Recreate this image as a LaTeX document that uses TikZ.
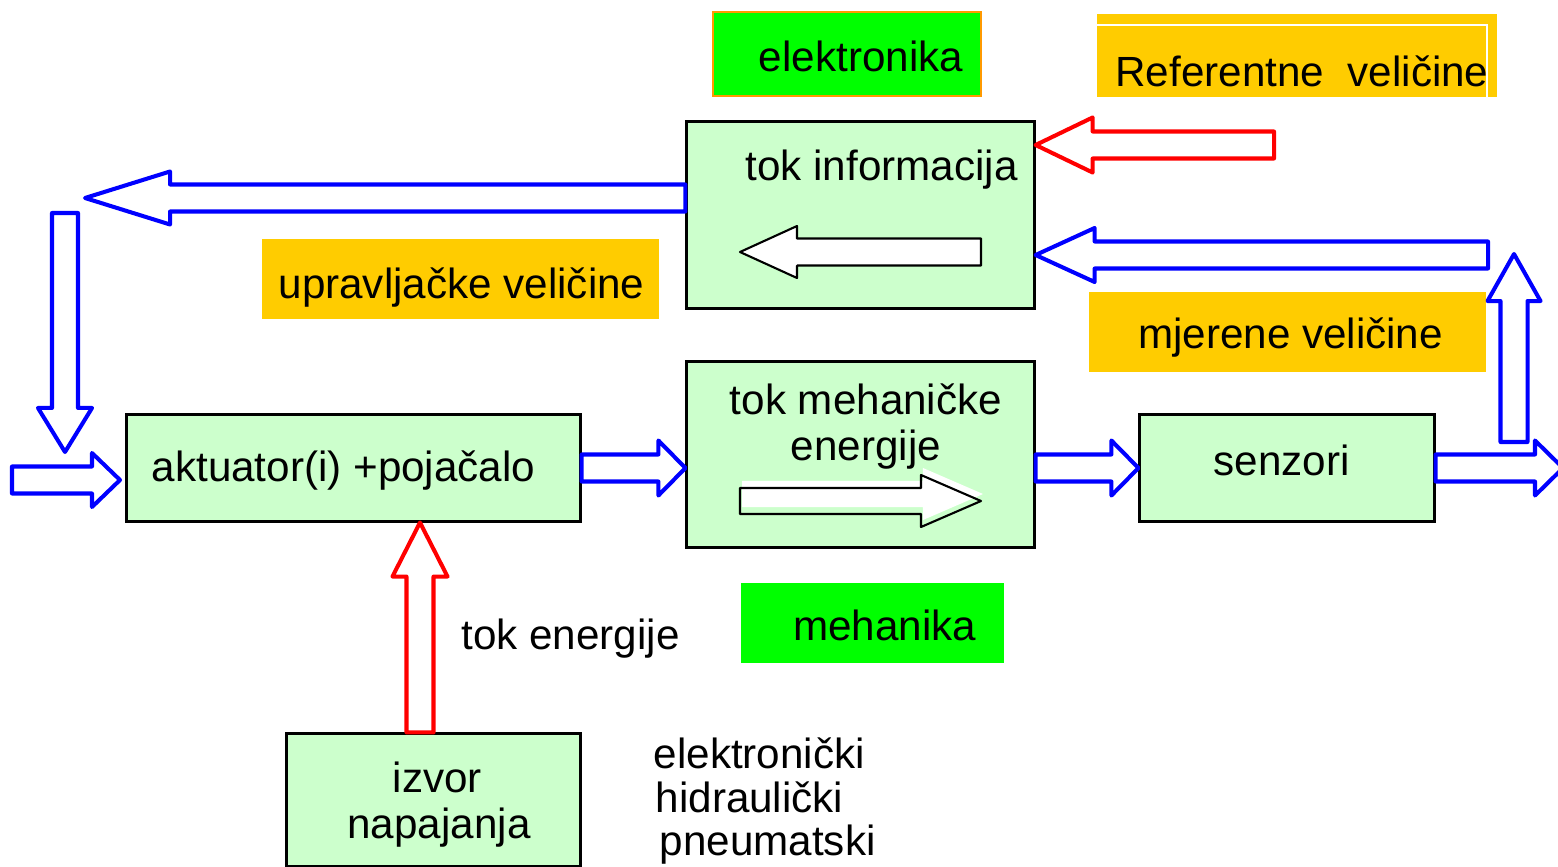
\documentclass[tikz,border=0pt]{standalone}
\usepackage{fontspec}
\setmainfont{Liberation Sans}
\usetikzlibrary{calc}
\definecolor{boxgreen}{HTML}{CCFFCC}
\definecolor{brightgreen}{HTML}{00FF00}
\definecolor{labelyellow}{HTML}{FFCC00}
\definecolor{borderorange}{HTML}{FF9900}
\definecolor{arrowblue}{HTML}{0000FF}
\definecolor{arrowred}{HTML}{FF0000}
% hollow block arrow: style, from, to, half shaft width, half head width, head length
\newcommand\hollowarrow[6]{%
  \coordinate (ha-a) at (#2);
  \coordinate (ha-b) at (#3);
  \coordinate (ha-h) at ($(ha-b)!#6!(ha-a)$);
  \path[#1] ($(ha-a)!#4!90:(ha-b)$) -- ($(ha-h)!#4!90:(ha-b)$) -- ($(ha-h)!#5!90:(ha-b)$)
    -- (ha-b) -- ($(ha-h)!#5!-90:(ha-b)$) -- ($(ha-h)!#4!-90:(ha-b)$)
    -- ($(ha-a)!#4!-90:(ha-b)$) -- cycle;}
\begin{document}
\begin{tikzpicture}[x=0.01cm,y=-0.01cm,
  box/.style={draw=black, line width=0.85pt, fill=boxgreen, inner sep=0pt},
  tag/.style={inner sep=0pt, draw=none},
  lbl/.style={font=\fontsize{12}{13.4}\selectfont, inner sep=0pt, anchor=base},
  barrow/.style={draw=arrowblue, fill=white, line width=1.15pt, line join=round},
  rarrow/.style={draw=arrowred, fill=white, line width=1.15pt, line join=round},
  karrow/.style={draw=black, fill=white, line width=0.6pt, line join=round},
  kline/.style={draw=black, line width=0.6pt, line join=round},
  shadowfill/.style={fill=white, draw=none}]
\useasboundingbox (0,0) rectangle (1558,867);

% label backgrounds
\node[tag, fill=brightgreen, draw=borderorange, line width=0.6pt,
      minimum width=2.68cm, minimum height=0.84cm] (elek) at (847,54) {};
\node[tag, fill=labelyellow, minimum width=4.00cm, minimum height=0.83cm] (ref) at (1297,55.5) {};
\draw[white, line width=0.6pt] (ref.west |- 0,25) -- (1487,25) -- (1487,0 |- ref.south);
\node[tag, fill=labelyellow, minimum width=3.97cm, minimum height=0.80cm] (upr) at (460.5,279) {};
\node[tag, fill=labelyellow, minimum width=3.97cm, minimum height=0.80cm] (mjer) at (1287.5,332) {};
\node[tag, fill=brightgreen, minimum width=2.63cm, minimum height=0.80cm] (meh) at (872.5,623) {};

% blocks
\node[box, minimum width=3.47cm, minimum height=1.86cm] (info) at (860.5,215) {};
\node[box, minimum width=3.47cm, minimum height=1.85cm] (mech) at (860.5,454.5) {};
\node[box, minimum width=4.53cm, minimum height=1.06cm] (act) at (353.5,468) {};
\node[box, minimum width=2.94cm, minimum height=1.06cm] (senz) at (1287,468) {};
\node[box, minimum width=2.93cm, minimum height=1.32cm] (izvor) at (433.5,800) {};

% free ends of connectors
\coordinate (L1) at (85,198);
\coordinate (D0) at (65,213);
\coordinate (D1) at (65,452);
\coordinate (I0) at (12,480);
\coordinate (I1) at (120,480);
\coordinate (O1) at (1563,468);
\coordinate (U0) at (1514,442);
\coordinate (U1) at (1514,254);
\coordinate (M0) at (1488,255);
\coordinate (R0) at (1274,145);
\coordinate (E0) at (420,0);
\coordinate (K0) at (981,252);
\coordinate (K1) at (740,252);
\coordinate (N0) at (740,501);
\coordinate (N1) at (981,501);
\coordinate (NS0) at (742,494);
\coordinate (NS1) at (983,494);

% blue flow arrows
\hollowarrow{barrow}{info.west |- L1}{L1}{0.135cm}{0.265cm}{0.85cm}
\hollowarrow{barrow}{D0}{D1}{0.13cm}{0.27cm}{0.44cm}
\hollowarrow{barrow}{I0}{I1}{0.135cm}{0.27cm}{0.28cm}
\hollowarrow{barrow}{act.east}{act.east -| mech.west}{0.135cm}{0.275cm}{0.27cm}
\hollowarrow{barrow}{senz.west -| mech.east}{senz.west}{0.135cm}{0.275cm}{0.27cm}
\hollowarrow{barrow}{senz.east}{O1}{0.135cm}{0.275cm}{0.28cm}
\hollowarrow{barrow}{U0}{U1}{0.135cm}{0.265cm}{0.47cm}
\hollowarrow{barrow}{M0}{info.east |- M0}{0.135cm}{0.27cm}{0.59cm}

% red energy / reference arrows
\hollowarrow{rarrow}{R0}{info.east |- R0}{0.135cm}{0.275cm}{0.57cm}
\hollowarrow{rarrow}{E0 |- izvor.north}{E0 |- act.south}{0.135cm}{0.275cm}{0.54cm}

% black arrows inside blocks
\hollowarrow{karrow}{K0}{K1}{0.135cm}{0.26cm}{0.57cm}
\hollowarrow{shadowfill}{NS0}{NS1}{0.13cm}{0.26cm}{0.60cm}
\hollowarrow{kline}{N0}{N1}{0.13cm}{0.26cm}{0.60cm}

% texts
\node[lbl] (t-elek) at (861,72) {elektronika};
\node[lbl] (t-ref) at (1302,87) {Referentne\ \ veličine};
\node[lbl] (t-info) at (881.5,180) {tok informacija};
\node[lbl] (t-upr) at (461.5,298) {upravljačke veličine};
\node[lbl] (t-mjer) at (1290.5,348) {mjerene veličine};
\node[lbl] (t-mech1) at (866,414) {tok mehaničke};
\node[lbl] (t-mech2) at (866,460) {energije};
\node[lbl] (t-act) at (343.5,481) {aktuator(i) +pojačalo};
\node[lbl] (t-senz) at (1281.5,475) {senzori};
\node[lbl] (t-meh) at (884.5,640) {mehanika};
\node[lbl] (t-tok) at (570.5,649) {tok energije};
\node[lbl] (t-izv1) at (437.5,792) {izvor};
\node[lbl] (t-izv2) at (439,838) {napajanja};
\node[lbl, anchor=base west] (t-el) at (653,768) {elektronički};
\node[lbl, anchor=base west] (t-hi) at (655,812) {hidraulički};
\node[lbl, anchor=base west] (t-pn) at (659,855) {pneumatski};
\end{tikzpicture}
\end{document}
